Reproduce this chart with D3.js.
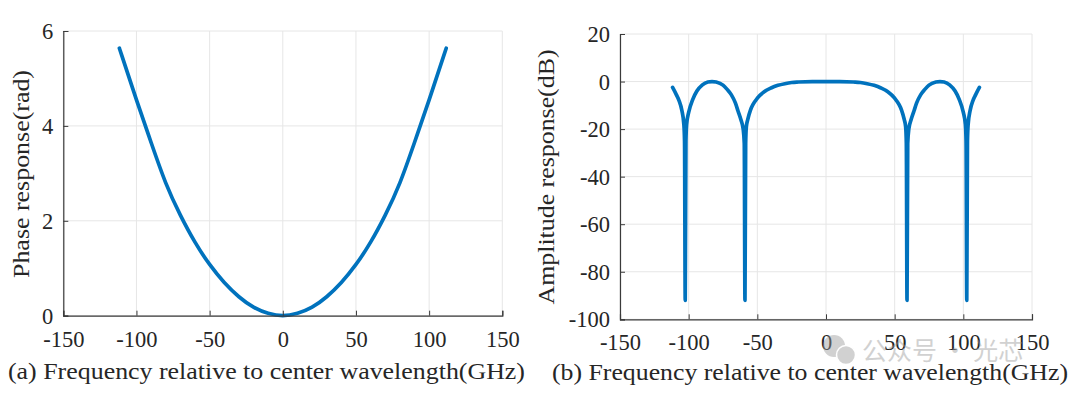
<!DOCTYPE html>
<html>
<head>
<meta charset="utf-8">
<script src="https://cdn.jsdelivr.net/npm/d3@7"></script>
<style>
  html, body { margin: 0; padding: 0; background: #ffffff; }
  svg { display: block; }
</style>
</head>
<body>
<svg id="chart" width="1080" height="394"></svg>
<script>
// ---------- data ----------
const xTicks = [-150, -100, -50, 0, 50, 100, 150];
const phaseTicks = [0, 2, 4, 6];
const ampTicks = [-100, -80, -60, -40, -20, 0, 20];

// (a) phase response
const phaseFreq = [-111.5, -110, -100, -90, -80, -70, -60, -50, -40, -30, -20, -10, 0,
                   10, 20, 30, 40, 50, 60, 70, 80, 90, 100, 110, 111.5];
const phaseVal  = [5.62, 5.48, 4.55, 3.65, 2.80, 2.12, 1.55, 1.08, 0.70, 0.40, 0.18, 0.05, 0,
                   0.05, 0.18, 0.40, 0.70, 1.08, 1.55, 2.12, 2.80, 3.65, 4.55, 5.48, 5.62];

// (b) amplitude response
const ampFreq = [-111.7, -109, -107, -105, -103.5, -103, -102.5, -102, -101.5, -100, -97, -94, -90,
                 -86, -83, -80, -75, -72, -69, -66, -64, -62, -60.3, -59.5, -59, -58.5, -58, -57,
                 -55, -53, -50, -45, -40, -35, -30, -25, -20, -10, 0,
                 10, 20, 25, 30, 35, 40, 45, 50, 53, 55, 57, 58, 58.5, 59, 59.5, 60.3, 62,
                 64, 66, 69, 72, 75, 80, 83, 86, 90, 94, 97, 100, 101.5, 102, 102.5, 103,
                 103.5, 105, 107, 109, 111.7];
const ampDb   = [-2.5, -5.5, -8, -12, -18, -25, -92, -25, -18, -13, -7.5, -4, -1.4,
                 -0.2, 0, -0.2, -1.5, -3.3, -5.5, -9, -12.5, -16, -20, -26, -92, -26, -19, -16,
                 -12, -9.5, -7, -4.3, -2.7, -1.6, -0.9, -0.4, -0.2, 0, 0,
                 0, -0.2, -0.4, -0.9, -1.6, -2.7, -4.3, -7, -9.5, -12, -16, -19, -26, -92, -26, -20, -16,
                 -12.5, -9, -5.5, -3.3, -1.5, -0.2, 0, -0.2, -1.4, -4, -7.5, -13, -18, -25, -92, -25,
                 -18, -12, -8, -5.5, -2.5];

const labelsA = { y: "Phase response(rad)", x: "(a) Frequency relative to center wavelength(GHz)" };
const labelsB = { y: "Amplitude response(dB)", x: "(b) Frequency relative to center wavelength(GHz)" };
const watermark = "公众号 · 光芯";

// ---------- drawing ----------
const svg = d3.select("#chart");
const LINE = "#0072BD";
const GRID = "#e6e6e6";
const AXIS = "#3a3a3a";
const TEXT = "#262626";
const SERIF = "'Liberation Serif', 'Times New Roman', serif";
const fmt = d => String(d);   // plain hyphen minus like the reference

function panel(cfg) {
  const x = d3.scaleLinear().domain([-150, 150]).range([cfg.left, cfg.right]);
  const y = d3.scaleLinear().domain(cfg.yDomain).range([cfg.bottom, cfg.top]);
  const g = svg.append("g");

  // grid
  g.append("g").selectAll("line").data(xTicks).join("line")
    .attr("x1", d => x(d)).attr("x2", d => x(d))
    .attr("y1", cfg.top).attr("y2", cfg.bottom)
    .attr("stroke", GRID).attr("stroke-width", 1);
  g.append("g").selectAll("line").data(cfg.yTicks).join("line")
    .attr("x1", cfg.left).attr("x2", cfg.right)
    .attr("y1", d => y(d)).attr("y2", d => y(d))
    .attr("stroke", GRID).attr("stroke-width", 1);

  // data line
  const pts = cfg.xs.map((d, i) => [d, cfg.ys[i]]);
  g.append("path").datum(pts)
    .attr("fill", "none").attr("stroke", LINE).attr("stroke-width", 3.7)
    .attr("stroke-linejoin", "round").attr("stroke-linecap", "round")
    .attr("d", d3.line().x(d => x(d[0])).y(d => y(d[1])).curve(cfg.curve));

  // axes (inward ticks)
  const xAxis = d3.axisBottom(x).tickValues(xTicks).tickSize(-5).tickPadding(12).tickFormat(fmt);
  const yAxis = d3.axisLeft(y).tickValues(cfg.yTicks).tickSize(-5).tickPadding(10).tickFormat(fmt);
  const gx = g.append("g").attr("transform", `translate(0,${cfg.bottom})`).call(xAxis);
  const gy = g.append("g").attr("transform", `translate(${cfg.left},0)`).call(yAxis);
  [gx, gy].forEach(a => {
    a.attr("font-family", SERIF).attr("font-size", 22.5);
    a.select(".domain").attr("stroke", AXIS).attr("stroke-width", 1.2);
    a.selectAll(".tick line").attr("stroke", AXIS).attr("stroke-width", 1);
    a.selectAll(".tick text").attr("fill", TEXT);
  });
  gx.selectAll(".tick text").attr("y", cfg.xLabelY).attr("dy", "0.71em");
  gy.selectAll(".tick text").attr("dy", "0.34em");

  // y label
  g.append("text")
    .attr("transform", `translate(${cfg.yLabelX},${cfg.yLabelCY}) rotate(-90)`)
    .attr("text-anchor", "middle")
    .attr("textLength", cfg.yLabelLen).attr("lengthAdjust", "spacingAndGlyphs")
    .attr("fill", TEXT).attr("font-family", SERIF).attr("font-size", 24)
    .text(cfg.labels.y);

  // caption
  g.append("text")
    .attr("x", cfg.capX).attr("y", cfg.capY)
    .attr("textLength", cfg.capLen).attr("lengthAdjust", "spacingAndGlyphs")
    .attr("fill", TEXT).attr("font-family", SERIF).attr("font-size", 24)
    .text(cfg.labels.x);
}

panel({
  left: 63.3, right: 502.3, top: 31, bottom: 315.7,
  yDomain: [0, 6], yTicks: phaseTicks,
  xs: phaseFreq, ys: phaseVal, labels: labelsA, curve: d3.curveNatural,
  xLabelY: 15.5,
  yLabelX: 29, yLabelCY: 174, yLabelLen: 208,
  capX: 8, capY: 378.5, capLen: 517
});

panel({
  left: 620, right: 1032, top: 34, bottom: 319.3,
  yDomain: [-100, 20], yTicks: ampTicks,
  xs: ampFreq, ys: ampDb, labels: labelsB, curve: d3.curveMonotoneX,
  xLabelY: 14.5,
  yLabelX: 554, yLabelCY: 177, yLabelLen: 255,
  capX: 552, capY: 380, capLen: 516
});

// watermark (semi-transparent, as in the reference)
const wm = svg.append("g").attr("opacity", 0.45);
wm.append("circle").attr("cx", 834).attr("cy", 346).attr("r", 11).attr("fill", "#9a9a9a");
wm.append("circle").attr("cx", 846).attr("cy", 355).attr("r", 9.5).attr("fill", "#9a9a9a")
  .attr("stroke", "#ffffff").attr("stroke-width", 1.5);
wm.append("text").attr("x", 862).attr("y", 360)
  .attr("fill", "#9a9a9a").attr("font-family", "'Noto Sans CJK SC', sans-serif")
  .attr("font-size", 25).text(watermark);
</script>
</body>
</html>
